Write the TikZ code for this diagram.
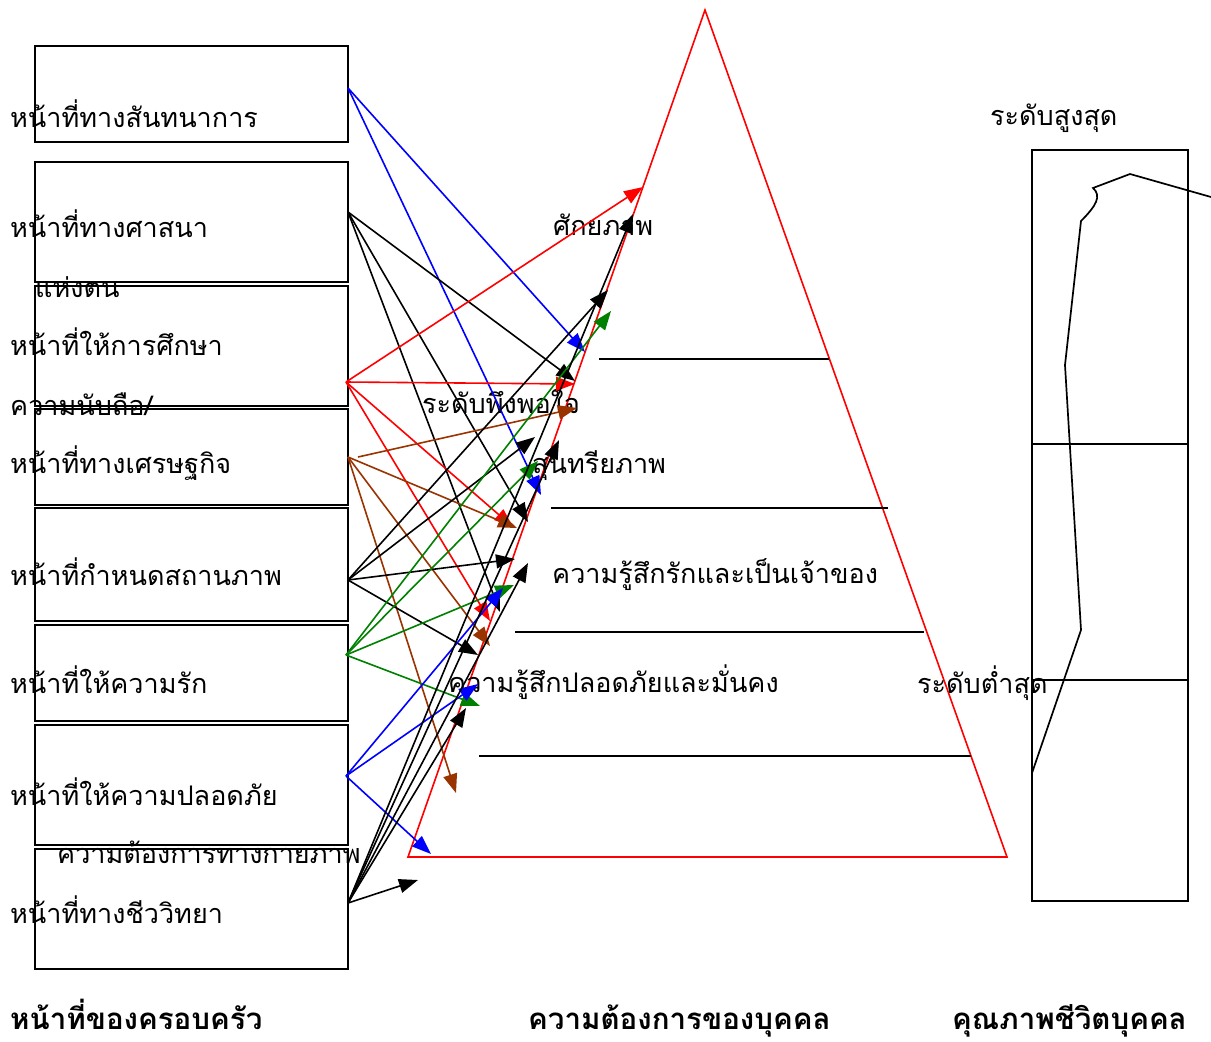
\documentclass[tikz,border=0pt]{standalone}
\usepackage{fontspec}
\newfontfamily\thai[Script=Thai]{Loma}
\usetikzlibrary{arrows.meta}
\definecolor{brn}{RGB}{153,51,0}
\definecolor{grn}{RGB}{0,128,0}
\definecolor{blu}{RGB}{0,0,255}
\definecolor{rd}{RGB}{255,0,0}
\begin{document}
\begin{tikzpicture}[x=1pt,y=-1pt,
  fbox/.style={draw, line width=1.8pt, inner sep=0pt, outer sep=0pt, anchor=north west},
  lbl/.style={font=\thai\fontsize{27}{30}\selectfont, anchor=base west, inner sep=0pt},
  ttl/.style={font=\thai\bfseries\fontsize{29.5}{32}\selectfont, anchor=base west, inner sep=0pt},
  arr/.style={-{Triangle[length=19pt,width=14pt]}, line width=1.6pt},
  lvl/.style={line width=1.7pt},
]
\useasboundingbox (0,0) rectangle (1211,1042);
% family function boxes
\node[fbox, minimum width=313pt, minimum height=96pt] (box1) at (35,46) {};
\node[fbox, minimum width=313pt, minimum height=120pt] (box2) at (35,162) {};
\node[fbox, minimum width=313pt, minimum height=120pt] (box3) at (35,286) {};
\node[fbox, minimum width=313pt, minimum height=96pt] (box4) at (35,409) {};
\node[fbox, minimum width=313pt, minimum height=113pt] (box5) at (35,508) {};
\node[fbox, minimum width=313pt, minimum height=96pt] (box6) at (35,625) {};
\node[fbox, minimum width=313pt, minimum height=120pt] (box7) at (35,725) {};
\node[fbox, minimum width=313pt, minimum height=120pt] (box8) at (35,849) {};
% labels
\node[lbl] (l1) at (10,127) {หน้าที่ทางสันทนาการ};
\node[lbl] (l2) at (10,237) {หน้าที่ทางศาสนา};
\node[lbl] (l2b) at (35,297) {แห่งตน};
\node[lbl] (l3) at (10,355) {หน้าที่ให้การศึกษา};
\node[lbl] (l3b) at (10,415) {ความนับถือ/};
\node[lbl] (l4) at (10,473) {หน้าที่ทางเศรษฐกิจ};
\node[lbl] (l5) at (10,585) {หน้าที่กำหนดสถานภาพ};
\node[lbl] (l6) at (10,693) {หน้าที่ให้ความรัก};
\node[lbl] (l7) at (10,805) {หน้าที่ให้ความปลอดภัย};
\node[lbl] (l7b) at (57,863) {ความต้องการทางกายภาพ};
\node[lbl] (l8) at (10,923) {หน้าที่ทางชีววิทยา};
% pyramid
\draw[rd, line width=1.6pt] (705,10) -- (1007,857) -- (408,857) -- cycle;
\draw[lvl] (599,359) -- (829,359);
\draw[lvl] (551,508) -- (888,508);
\draw[lvl] (515,632) -- (924,632);
\draw[lvl] (479,756) -- (971,756);
\node[lbl] (n1) at (553,235) {ศักยภาพ};
\node[lbl] (n2) at (422,413) {ระดับพึงพอใจ};
\node[lbl] (n3) at (532,473) {สุนทรียภาพ};
\node[lbl] (n4) at (552,583) {ความรู้สึกรักและเป็นเจ้าของ};
\node[lbl] (n5) at (448,692) {ความรู้สึกปลอดภัยและมั่นคง};
% quality of life
\node[lbl] (q1) at (990,125) {ระดับสูงสุด};
\node[lbl] (q2) at (917,693) {ระดับต่ำสุด};
\node[fbox, line width=1.7pt, minimum width=156pt, minimum height=751pt] (qbox) at (1032,150) {};
\draw[lvl] (qbox.west |- 0,444) -- (qbox.east |- 0,444);
\draw[lvl] (qbox.west |- 0,680) -- (qbox.east |- 0,680);
\draw[line width=1.7pt] (1211,197) -- (1130,174) -- (1093,188) .. controls (1102,196) and (1096,206) .. (1081,221) -- (1065,365) -- (1081,630) -- (1032,773);
% titles
\node[ttl] (t1) at (10,1029) {หน้าที่ของครอบครัว};
\node[ttl] (t2) at (528,1029) {ความต้องการของบุคคล};
\node[ttl] (t3) at (952,1029) {คุณภาพชีวิตบุคคล};
% arrow sources
\coordinate (s1) at (348,88);
\coordinate (s2) at (348,212);
\coordinate (s3) at (346,382);
\coordinate (s4) at (348,457);
\coordinate (s4b) at (358,457);
\coordinate (s5) at (348,580);
\coordinate (s6) at (346,655);
\coordinate (s7) at (346,776);
\coordinate (s8) at (348,903);
% arrow targets
\coordinate (a1) at (585,352); \coordinate (a2) at (541,495);
\coordinate (b1) at (575,381); \coordinate (b2) at (528,522); \coordinate (b3) at (500,612);
\coordinate (c1) at (643,187); \coordinate (c2) at (575,384); \coordinate (c3) at (513,527); \coordinate (c4) at (490,621);
\coordinate (d1) at (577,408); \coordinate (d2) at (517,528); \coordinate (d3) at (490,646); \coordinate (d4) at (456,793);
\coordinate (e1) at (608,290); \coordinate (e2) at (535,437); \coordinate (e3) at (515,559); \coordinate (e4) at (478,655);
\coordinate (f1) at (611,311); \coordinate (f2) at (538,461); \coordinate (f3) at (514,585); \coordinate (f4) at (480,706);
\coordinate (g1) at (503,588); \coordinate (g2) at (478,684); \coordinate (g3) at (431,854);
\coordinate (h1) at (633,214); \coordinate (h2) at (559,440); \coordinate (h3) at (528,563); \coordinate (h4) at (466,708); \coordinate (h5) at (418,880);
% arrows
\draw[arr, blu] (s1) -- (a1);
\draw[arr, blu] (s1) -- (a2);
\draw[arr] (s2) -- (b1);
\draw[arr] (s2) -- (b2);
\draw[arr] (s2) -- (b3);
\draw[arr, rd] (s3) -- (c1);
\draw[arr, rd] (s3) -- (c2);
\draw[arr, rd] (s3) -- (c3);
\draw[arr, rd] (s3) -- (c4);
\draw[arr, brn] (s4b) -- (d1);
\draw[arr, brn] (s4) -- (d2);
\draw[arr, brn] (s4) -- (d3);
\draw[arr, brn] (s4) -- (d4);
\draw[arr] (s5) -- (e1);
\draw[arr] (s5) -- (e2);
\draw[arr] (s5) -- (e3);
\draw[arr] (s5) -- (e4);
\draw[arr, grn] (s6) -- (f1);
\draw[arr, grn] (s6) -- (f2);
\draw[arr, grn] (s6) -- (f3);
\draw[arr, grn] (s6) -- (f4);
\draw[arr, blu] (s7) -- (g1);
\draw[arr, blu] (s7) -- (g2);
\draw[arr, blu] (s7) -- (g3);
\draw[arr] (s8) -- (h1);
\draw[arr] (s8) -- (h2);
\draw[arr] (s8) -- (h3);
\draw[arr] (s8) -- (h4);
\draw[arr] (s8) -- (h5);
\end{tikzpicture}
\end{document}
